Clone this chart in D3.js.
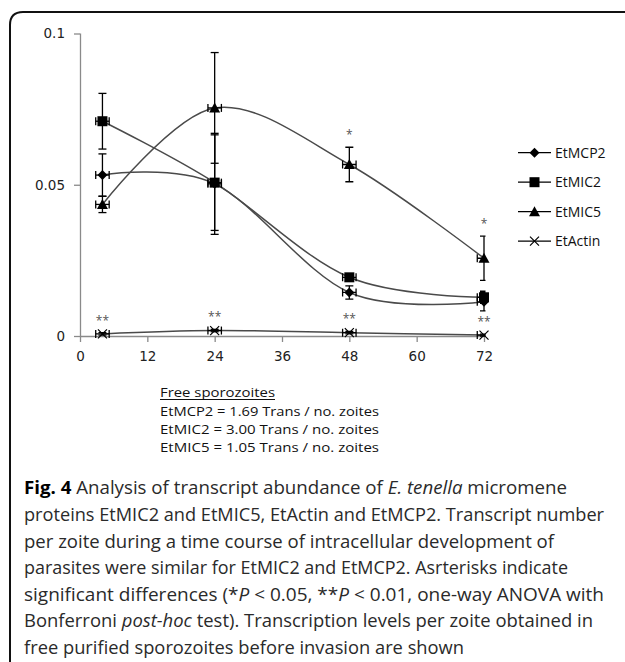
<!DOCTYPE html>
<html>
<head>
<meta charset="utf-8">
<script src="https://cdn.jsdelivr.net/npm/d3@7"></script>
<style>
html,body{margin:0;padding:0;background:#fff;}
svg{display:block;}
</style>
</head>
<body>
<svg id="chart" width="625" height="662"></svg>
<script>
// ---------- data ----------
const hours = [4, 24, 48, 72];
const seriesNames = ["EtMCP2", "EtMIC2", "EtMIC5", "EtActin"];
const seriesMarkers = ["diamond", "square", "triangle", "cross"];
const mcp2 = [0.0532, 0.0503, 0.0144, 0.0113];
const mcp2Err = [0.0070, 0.0167, 0.0022, 0.0030];
const mic2 = [0.0710, 0.0507, 0.0194, 0.0128];
const mic2Err = [0.0092, 0.0158, 0.0010, 0.0020];
const mic5 = [0.0435, 0.0754, 0.0567, 0.0257];
const mic5Err = [0.0027, 0.0183, 0.0057, 0.0073];
const actin = [0.0007, 0.0018, 0.0011, 0.0003];
const actinErr = [0.0004, 0.0004, 0.0004, 0.0003];
const hourErr = 1.2;
const xTicks = [0, 12, 24, 36, 48, 60, 72];
const yTicks = [0, 0.05, 0.1];
const yTickLabels = ["0", "0.05", "0.1"];
// significance marks: [series index, point index, label]
const sigSeries = [2, 2, 3, 3, 3, 3];
const sigPoint = [2, 3, 0, 1, 2, 3];
const sigLabels = ["*", "*", "**", "**", "**", "**"];
const freeTitle = "Free sporozoites";
const freeLines = ["EtMCP2 = 1.69 Trans / no. zoites", "EtMIC2 = 3.00 Trans / no. zoites", "EtMIC5 = 1.05 Trans / no. zoites"];
const captionLines = [
  [["Fig. 4", "b"], [" Analysis of transcript abundance of ", ""], ["E. tenella", "i"], [" micromene", ""]],
  [["proteins EtMIC2 and EtMIC5, EtActin and EtMCP2. Transcript number", ""]],
  [["per zoite during a time course of intracellular development of", ""]],
  [["parasites were similar for EtMIC2 and EtMCP2. Asrterisks indicate", ""]],
  [["significant differences (*", ""], ["P", "i"], [" < 0.05, **", ""], ["P", "i"], [" < 0.01, one-way ANOVA with", ""]],
  [["Bonferroni ", ""], ["post-hoc", "i"], [" test). Transcription levels per zoite obtained in", ""]],
  [["free purified sporozoites before invasion are shown", ""]]
];
const captionEnds = [567, 604, 554, 568, 604, 593, 464];

const values = [mcp2, mic2, mic5, actin];
const errors = [mcp2Err, mic2Err, mic5Err, actinErr];

// ---------- layout ----------
const svg = d3.select("#chart");
const x = d3.scaleLinear().domain([0, 72]).range([80, 484]);
const y = d3.scaleLinear().domain([0, 0.1]).range([336, 33.5]);

// frame
svg.append("path")
  .attr("d", "M10,670 L10,25 Q10,12 23,12 L630,12")
  .attr("fill", "none").attr("stroke", "#111").attr("stroke-width", 2);

// axes
const axisColor = "#8a8a8a";
const gx = svg.append("g").attr("transform", "translate(0,336)")
  .call(d3.axisBottom(x).tickValues(xTicks).tickSize(6).tickPadding(9).tickFormat(d3.format("d")));
const gy = svg.append("g").attr("transform", "translate(80,0)")
  .call(d3.axisLeft(y).tickValues(yTicks).tickSize(6).tickPadding(9).tickFormat((d, i) => yTickLabels[i]));
[gx, gy].forEach(g => {
  g.select(".domain").attr("stroke", axisColor).attr("stroke-width", 1.3);
  g.selectAll(".tick line").attr("stroke", axisColor).attr("stroke-width", 1.3);
  g.selectAll("text").attr("font-family", "DejaVu Sans").attr("font-size", 13.5).attr("fill", "#222");
});
gy.select(".domain").attr("d", "M0.5,33.5V336.5");
gx.select(".domain").attr("d", "M80,0.5H484");

// clip for error bars (right edge of plot area)
svg.append("clipPath").attr("id", "plotclip")
  .append("rect").attr("x", 0).attr("y", 0).attr("width", 485.5).attr("height", 400);

// lines
const line = d3.line().x(d => x(d[0])).y(d => y(d[1])).curve(d3.curveCardinal.tension(0));
values.forEach((vals, s) => {
  svg.append("path")
    .attr("d", line(hours.map((h, i) => [h, vals[i]])))
    .attr("fill", "none").attr("stroke", "#4a4a4a").attr("stroke-width", 1.5);
});

// error bars
const eb = svg.append("g").attr("clip-path", "url(#plotclip)")
  .attr("stroke", "#000").attr("stroke-width", 1.3).attr("fill", "none");
values.forEach((vals, s) => {
  hours.forEach((h, i) => {
    const cx = x(h), v = vals[i], e = errors[s][i];
    const yt = y(v + e), yb = y(v - e);
    eb.append("line").attr("x1", cx).attr("x2", cx).attr("y1", yt).attr("y2", yb);
    eb.append("line").attr("x1", cx - 4).attr("x2", cx + 4).attr("y1", yt).attr("y2", yt);
    eb.append("line").attr("x1", cx - 4).attr("x2", cx + 4).attr("y1", yb).attr("y2", yb);
    const xl = x(h - hourErr), xr = x(h + hourErr), cy = y(v);
    eb.append("line").attr("x1", xl).attr("x2", xr).attr("y1", cy).attr("y2", cy);
    eb.append("line").attr("x1", xl).attr("x2", xl).attr("y1", cy - 4).attr("y2", cy + 4);
    eb.append("line").attr("x1", xr).attr("x2", xr).attr("y1", cy - 4).attr("y2", cy + 4);
  });
});

// markers
function drawMarker(g, type, cx, cy) {
  if (type === "diamond") {
    g.append("path").attr("d", `M${cx},${cy - 5}L${cx + 5},${cy}L${cx},${cy + 5}L${cx - 5},${cy}Z`).attr("fill", "#000");
  } else if (type === "square") {
    g.append("rect").attr("x", cx - 5).attr("y", cy - 5).attr("width", 10).attr("height", 10).attr("fill", "#000");
  } else if (type === "triangle") {
    g.append("path").attr("d", `M${cx},${cy - 5.5}L${cx + 5.5},${cy + 4.5}L${cx - 5.5},${cy + 4.5}Z`).attr("fill", "#000");
  } else {
    g.append("path").attr("d", `M${cx - 4.5},${cy - 4.5}L${cx + 4.5},${cy + 4.5}M${cx - 4.5},${cy + 4.5}L${cx + 4.5},${cy - 4.5}`)
      .attr("stroke", "#000").attr("stroke-width", 1.2).attr("fill", "none");
  }
}
const mk = svg.append("g");
values.forEach((vals, s) => {
  hours.forEach((h, i) => drawMarker(mk, seriesMarkers[s], x(h), y(vals[i])));
});

// significance
sigLabels.forEach((lab, k) => {
  const s = sigSeries[k], i = sigPoint[k];
  const top = y(values[s][i] + errors[s][i]);
  svg.append("text").attr("x", x(hours[i])).attr("y", top - 8)
    .attr("text-anchor", "middle").attr("font-family", "Open Sans").attr("font-size", 12)
    .attr("fill", "#555").text(lab);
});

// legend
const lg = svg.append("g");
seriesNames.forEach((name, s) => {
  const cy = 152.7 + s * 29.5;
  lg.append("line").attr("x1", 518).attr("x2", 551).attr("y1", cy).attr("y2", cy)
    .attr("stroke", "#000").attr("stroke-width", 1.3);
  drawMarker(lg, seriesMarkers[s], 534.5, cy);
  lg.append("text").attr("x", 555).attr("y", cy + 5)
    .attr("font-family", "Open Sans").attr("font-size", 14).attr("fill", "#111").text(name);
});

// free sporozoites text
svg.append("text").attr("x", 160).attr("y", 396.7)
  .attr("font-family", "Open Sans").attr("font-size", 13.5).attr("fill", "#111")
  .attr("textLength", 115).attr("lengthAdjust", "spacingAndGlyphs").text(freeTitle);
svg.append("line").attr("x1", 160).attr("x2", 275).attr("y1", 399.5).attr("y2", 399.5)
  .attr("stroke", "#111").attr("stroke-width", 1);
freeLines.forEach((t, i) => {
  svg.append("text").attr("x", 160).attr("y", 415.5 + i * 18.3)
    .attr("font-family", "Open Sans").attr("font-size", 13.5).attr("fill", "#111")
    .attr("textLength", 219).attr("lengthAdjust", "spacingAndGlyphs").text(t);
});

// caption
captionLines.forEach((parts, li) => {
  const t = svg.append("text").attr("x", 24).attr("y", 494.3 + li * 26.6)
    .attr("font-family", "Open Sans").attr("font-size", 17.5).attr("fill", "#2a2a2a");
  parts.forEach(([txt, st]) => {
    const ts = t.append("tspan").text(txt);
    if (st === "b") ts.attr("font-weight", "bold").attr("fill", "#000");
    if (st === "i") ts.attr("font-style", "italic");
  });
  t.attr("textLength", captionEnds[li] - 24).attr("lengthAdjust", "spacingAndGlyphs");
});
</script>
</body>
</html>
